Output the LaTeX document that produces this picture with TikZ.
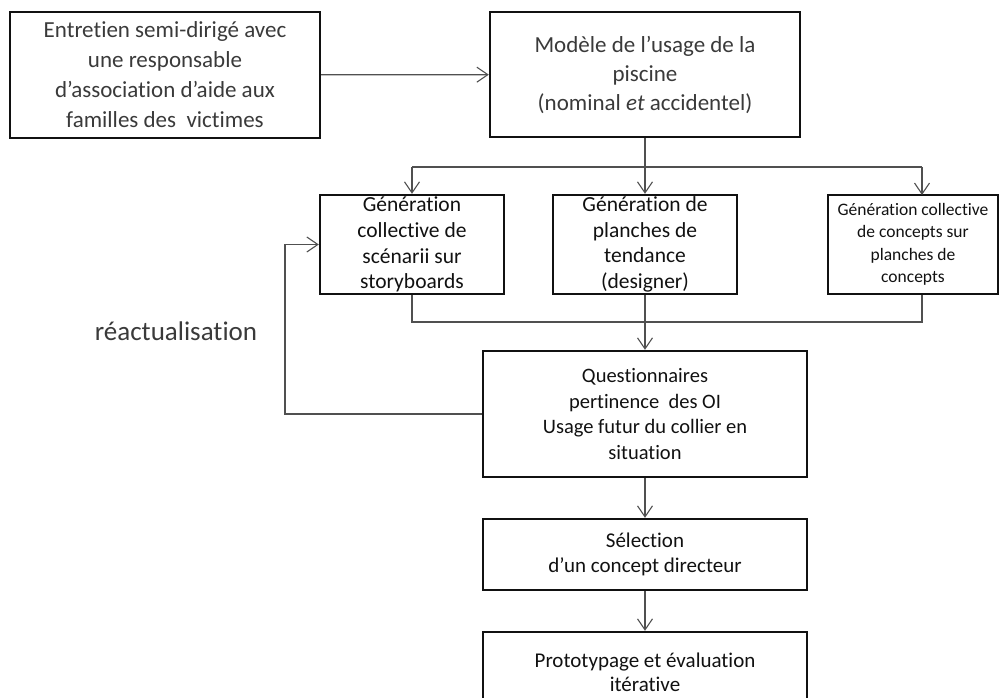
\documentclass[tikz,border=0pt]{standalone}
\usepackage{fontspec}
\setmainfont{Carlito}[Ligatures=NoCommon]
\usepackage{xcolor}
\usepackage{tikz}
\usetikzlibrary{arrows.meta,positioning,calc}
\definecolor{ink}     {HTML}{111111}
\definecolor{softink} {HTML}{3A3A3A}
\definecolor{wire}    {HTML}{505050}

\begin{document}
\begin{tikzpicture}[x=1pt,y=-1pt,
    box/.style={draw=ink, line width=2.4pt, align=center, inner xsep=0pt, inner ysep=-8pt, text=ink},
    conn/.style={wire, line width=1.2pt, -{Straight Barb[length=11pt,width=15pt,line width=1.1pt]}},
    wireline/.style={wire, line width=1.2pt}]
  \useasboundingbox (0,0) rectangle (999,698);
  % top row
  \node[box, minimum width=310, minimum height=126, text=softink, font=\fontsize{23}{30}\selectfont]
    (entretien) at (165,75) {Entretien semi-dirigé avec\\une responsable\\d’association d’aide aux\\familles des\ \ victimes};
  \node[box, minimum width=310, minimum height=125, text=softink, font=\fontsize{23}{29}\selectfont]
    (modele) at (645,74.5) {Modèle de l’usage de la\\piscine\\(nominal \textit{et} accidentel)};
  % generation boxes
  \node[box, minimum width=184, minimum height=99, font=\fontsize{21.5}{25.7}\selectfont]
    (genstory) at (412,244.5) {Génération\\collective de\\scénarii sur\\storyboards};
  \node[box, minimum width=184, minimum height=99, font=\fontsize{21.5}{25.7}\selectfont]
    (genplanches) at (645,244.5) {Génération de\\planches de\\tendance\\(designer)};
  \node[box, minimum width=170, minimum height=99, font=\fontsize{17.5}{22.5}\selectfont]
    (genconcepts) at (913,244.5) {Génération collective\\de concepts sur\\planches de\\concepts};
  % lower column
  \node[box, minimum width=324, minimum height=126, font=\fontsize{20.5}{25.7}\selectfont]
    (quest) at (645,414) {Questionnaires\\pertinence\ \ des OI\\Usage futur du collier en\\situation};
  \node[box, minimum width=324, minimum height=71, font=\fontsize{21}{25.5}\selectfont]
    (selection) at (645,554.5) {Sélection\\d’un concept directeur};
  \node[box, minimum width=324, minimum height=80, font=\fontsize{21}{24}\selectfont]
    (proto) at (645,672) {Prototypage et évaluation\\itérative};
  \node[text=softink, font=\fontsize{27}{30}\selectfont] (reac) at (176,331) {réactualisation};
  % connectors
  \coordinate (topsplit) at (645,167);
  \coordinate (botjoin) at (645,322);
  \coordinate (concin) at (922,195);
  \coordinate (loopleft) at (285,414);
  \draw[conn] (entretien) -- (modele);
  \draw[conn] (modele) -- (genplanches);
  \draw[conn] (topsplit -| genstory) -- (genstory);
  \draw[wireline] (topsplit -| genstory) -- (topsplit -| concin);
  \draw[conn] (topsplit -| concin) -- (concin);
  \draw[wireline] (genstory.south) |- (botjoin -| concin) -- (genconcepts.south -| concin);
  \draw[conn] (genplanches) -- (quest);
  \draw[conn] (quest.west) -- (loopleft) |- (genstory.west);
  \draw[conn] (quest) -- (selection);
  \draw[conn] (selection) -- (proto);
\end{tikzpicture}
\end{document}
